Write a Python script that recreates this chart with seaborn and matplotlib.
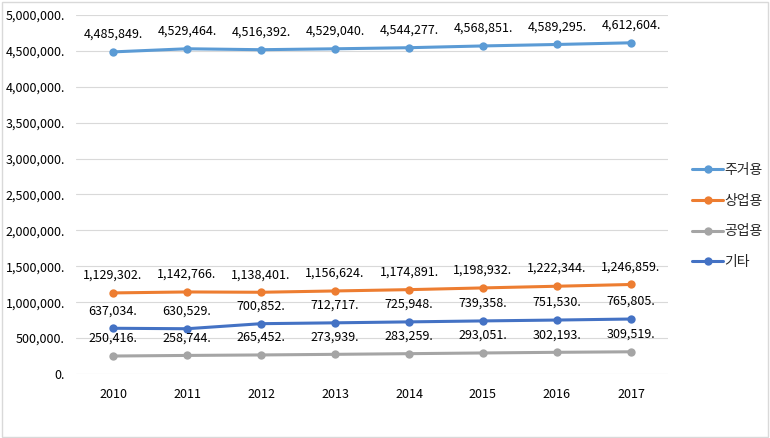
import pandas as pd
import numpy as np
import matplotlib.pyplot as plt
import seaborn as sns
from matplotlib.ticker import FuncFormatter, MultipleLocator
from matplotlib.patches import Rectangle

sns.set_style('white')
plt.rcParams['font.family'] = ['Noto Sans CJK KR', 'DejaVu Sans']

# Data
years = ['2010', '2011', '2012', '2013', '2014', '2015', '2016', '2017']
residential = [4485849, 4529464, 4516392, 4529040, 4544277, 4568851, 4589295, 4612604]
commercial = [1129302, 1142766, 1138401, 1156624, 1174891, 1198932, 1222344, 1246859]
industrial = [250416, 258744, 265452, 273939, 283259, 293051, 302193, 309519]
other = [637034, 630529, 700852, 712717, 725948, 739358, 751530, 765805]

series_names = ['주거용', '상업용', '공업용', '기타']
colors = ['#5B9BD5', '#ED7D31', '#A5A5A5', '#4472C4']

df = pd.DataFrame({
    'year': years * 4,
    'value': residential + commercial + industrial + other,
    'kind': [n for n in series_names for _ in years],
})

fig = plt.figure(figsize=(7.7, 4.38), dpi=100)
ax = fig.add_axes([0.0987, 0.1461, 0.7688, 0.8197])

sns.lineplot(data=df, x='year', y='value', hue='kind', hue_order=series_names,
             palette=colors, marker='o', markersize=6, markeredgewidth=0,
             linewidth=2.2, sort=False, ax=ax)

# Data labels
for name, vals in zip(series_names, [residential, commercial, industrial, other]):
    for i, v in enumerate(vals):
        ax.annotate(f'{v:,}.', (i, v), xytext=(0, 8), textcoords='offset points',
                    ha='center', va='bottom', fontsize=9, color='#000000')

ax.set_xlim(-0.5, len(years) - 0.5)
ax.set_ylim(0, 5000000)
ax.yaxis.set_major_locator(MultipleLocator(500000))
ax.yaxis.set_major_formatter(FuncFormatter(lambda v, p: f'{v:,.0f}.'))
ax.grid(axis='y', color='#D9D9D9', linewidth=0.8)
ax.grid(axis='x', visible=False)
for s in ax.spines.values():
    s.set_visible(False)
ax.tick_params(axis='both', length=0, labelsize=9, colors='#000000')
ax.tick_params(axis='x', pad=10)
ax.tick_params(axis='y', pad=8)
ax.set_xlabel('')
ax.set_ylabel('')

# Legend on the right
handles, labels = ax.get_legend_handles_labels()
ax.legend(handles, labels, loc='center left', bbox_to_anchor=(1.02, 0.44),
          frameon=False, fontsize=10, labelspacing=1.2, handlelength=2.2,
          handletextpad=0.1)

# Outer border
fig.patches.append(Rectangle((0.002, 0.003), 0.995, 0.993, transform=fig.transFigure,
                             fill=False, edgecolor='#D9D9D9', linewidth=1))

plt.savefig('out.png', dpi=100)
